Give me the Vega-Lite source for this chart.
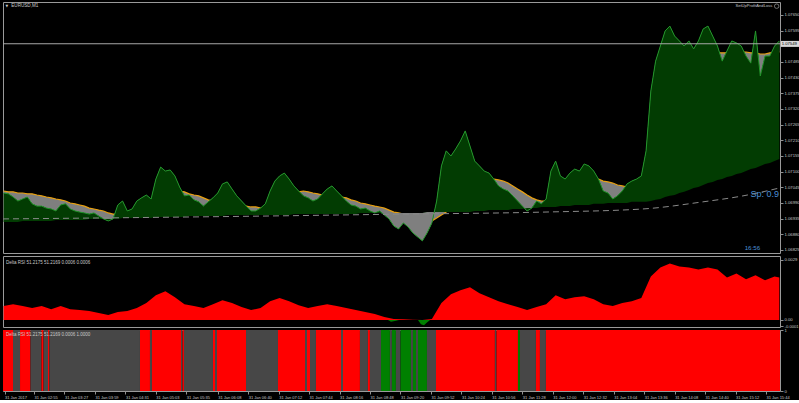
{
"$schema": "https://vega.github.io/schema/vega-lite/v6.json",
"background": "#000000",
"padding": {"left": 0, "top": 1, "right": 0, "bottom": 0},
"spacing": 3,
"bounds": "flush",
"config": {
  "view": {"stroke": "#9a9a9a", "strokeWidth": 1},
  "axis": {"labelFont": "Liberation Sans", "labelFontSize": 4.2, "labelColor": "#c8c8c8", "tickColor": "#909090", "domain": false, "grid": false, "tickSize": 3, "labelPadding": 1, "labelOverlap": false, "labelBound": false, "tickCount": 100},
  "text": {"font": "Liberation Sans", "color": "#c8c8c8"}
},
"datasets": {
"px": [
{"t":143,"c":1.07025,"m":1.07032,"b":1.06923},{"t":148,"c":1.07022,"m":1.07029,"b":1.06923},{"t":153,"c":1.07011,"m":1.07029,"b":1.06923},{"t":158,"c":1.06997,"m":1.07025,"b":1.06923},
{"t":163,"c":1.07004,"m":1.07025,"b":1.06927},{"t":168,"c":1.07011,"m":1.07022,"b":1.06927},{"t":173,"c":1.06987,"m":1.07022,"b":1.06927},{"t":178,"c":1.06979,"m":1.07018,"b":1.06927},
{"t":183,"c":1.06979,"m":1.07015,"b":1.06927},{"t":188,"c":1.06972,"m":1.07011,"b":1.06927},{"t":193,"c":1.06969,"m":1.07008,"b":1.06927},{"t":198,"c":1.06962,"m":1.07004,"b":1.0693},
{"t":203,"c":1.06983,"m":1.07001,"b":1.0693},{"t":208,"c":1.06987,"m":1.06997,"b":1.0693},{"t":213,"c":1.06969,"m":1.0699,"b":1.0693},{"t":218,"c":1.06962,"m":1.06987,"b":1.0693},
{"t":223,"c":1.06958,"m":1.06983,"b":1.0693},{"t":228,"c":1.06955,"m":1.06979,"b":1.0693},{"t":233,"c":1.06951,"m":1.06972,"b":1.06934},{"t":238,"c":1.06955,"m":1.06969,"b":1.06934},
{"t":243,"c":1.06944,"m":1.06965,"b":1.06934},{"t":248,"c":1.06934,"m":1.06962,"b":1.06934},{"t":253,"c":1.06927,"m":1.06955,"b":1.06934},{"t":258,"c":1.06934,"m":1.06951,"b":1.06934},
{"t":263,"c":1.06983,"m":1.06951,"b":1.06934},{"t":268,"c":1.06997,"m":1.06955,"b":1.06937},{"t":273,"c":1.06962,"m":1.06958,"b":1.06937},{"t":278,"c":1.06969,"m":1.06962,"b":1.06937},
{"t":283,"c":1.06997,"m":1.06965,"b":1.06937},{"t":288,"c":1.07008,"m":1.06972,"b":1.06937},{"t":293,"c":1.07018,"m":1.06983,"b":1.06937},{"t":298,"c":1.07004,"m":1.0699,"b":1.06937},
{"t":303,"c":1.07074,"m":1.07001,"b":1.06941},{"t":308,"c":1.07116,"m":1.07011,"b":1.06941},{"t":313,"c":1.07102,"m":1.07022,"b":1.06941},{"t":318,"c":1.07106,"m":1.07029,"b":1.06941},
{"t":323,"c":1.07085,"m":1.07032,"b":1.06941},{"t":328,"c":1.07046,"m":1.07032,"b":1.06941},{"t":333,"c":1.07015,"m":1.07029,"b":1.06941},{"t":338,"c":1.07018,"m":1.07022,"b":1.06944},
{"t":343,"c":1.07001,"m":1.07018,"b":1.06944},{"t":348,"c":1.06994,"m":1.07015,"b":1.06944},{"t":353,"c":1.06979,"m":1.07008,"b":1.06944},{"t":358,"c":1.06994,"m":1.07001,"b":1.06944},
{"t":363,"c":1.07008,"m":1.06997,"b":1.06944},{"t":368,"c":1.07025,"m":1.06994,"b":1.06944},{"t":373,"c":1.07057,"m":1.0699,"b":1.06944},{"t":378,"c":1.07064,"m":1.06987,"b":1.06948},
{"t":383,"c":1.07039,"m":1.06983,"b":1.06948},{"t":388,"c":1.07015,"m":1.06983,"b":1.06948},{"t":393,"c":1.06997,"m":1.06979,"b":1.06948},{"t":398,"c":1.06979,"m":1.06979,"b":1.06948},
{"t":403,"c":1.06962,"m":1.06976,"b":1.06948},{"t":408,"c":1.06962,"m":1.06976,"b":1.06948},{"t":413,"c":1.06972,"m":1.06972,"b":1.06948},{"t":418,"c":1.06987,"m":1.06972,"b":1.06948},
{"t":423,"c":1.07032,"m":1.06979,"b":1.06948},{"t":428,"c":1.07067,"m":1.06987,"b":1.06948},{"t":433,"c":1.07085,"m":1.06997,"b":1.06948},{"t":438,"c":1.07095,"m":1.07008,"b":1.06948},
{"t":443,"c":1.07074,"m":1.07015,"b":1.06948},{"t":448,"c":1.0705,"m":1.07022,"b":1.06951},{"t":453,"c":1.07032,"m":1.07029,"b":1.06951},{"t":458,"c":1.07015,"m":1.07032,"b":1.06951},
{"t":463,"c":1.07008,"m":1.07029,"b":1.06951},{"t":468,"c":1.06997,"m":1.07025,"b":1.06951},{"t":473,"c":1.07004,"m":1.07022,"b":1.06951},{"t":478,"c":1.07022,"m":1.07018,"b":1.06951},
{"t":483,"c":1.07039,"m":1.07015,"b":1.06951},{"t":488,"c":1.0705,"m":1.07015,"b":1.06951},{"t":493,"c":1.07032,"m":1.07011,"b":1.06951},{"t":498,"c":1.07015,"m":1.07011,"b":1.06951},
{"t":503,"c":1.06997,"m":1.07008,"b":1.06951},{"t":508,"c":1.06983,"m":1.07001,"b":1.06951},{"t":513,"c":1.06979,"m":1.06997,"b":1.06951},{"t":518,"c":1.06969,"m":1.0699,"b":1.06955},
{"t":523,"c":1.06972,"m":1.06987,"b":1.06955},{"t":528,"c":1.06962,"m":1.06983,"b":1.06955},{"t":533,"c":1.06955,"m":1.06979,"b":1.06955},{"t":538,"c":1.06962,"m":1.06976,"b":1.06955},
{"t":543,"c":1.06948,"m":1.06972,"b":1.06955},{"t":548,"c":1.06934,"m":1.06965,"b":1.06955},{"t":553,"c":1.06909,"m":1.06958,"b":1.06955},{"t":558,"c":1.06899,"m":1.06955,"b":1.06955},
{"t":563,"c":1.0692,"m":1.06951,"b":1.06955},{"t":568,"c":1.06906,"m":1.06948,"b":1.06955},{"t":573,"c":1.06885,"m":1.06941,"b":1.06955},{"t":578,"c":1.06871,"m":1.06934,"b":1.06955},
{"t":583,"c":1.06857,"m":1.06927,"b":1.06955},{"t":588,"c":1.06885,"m":1.0692,"b":1.06958},{"t":593,"c":1.0692,"m":1.06927,"b":1.06958},{"t":598,"c":1.06997,"m":1.06937,"b":1.06958},
{"t":603,"c":1.0712,"m":1.06948,"b":1.06958},{"t":608,"c":1.07173,"m":1.06958,"b":1.06958},{"t":613,"c":1.07155,"m":1.06972,"b":1.06958},{"t":618,"c":1.0718,"m":1.0699,"b":1.06958},
{"t":623,"c":1.07208,"m":1.07008,"b":1.06958},{"t":628,"c":1.07243,"m":1.07025,"b":1.06958},{"t":633,"c":1.0719,"m":1.07043,"b":1.06958},{"t":638,"c":1.07137,"m":1.07057,"b":1.06962},
{"t":643,"c":1.0712,"m":1.07067,"b":1.06962},{"t":648,"c":1.07102,"m":1.07074,"b":1.06962},{"t":653,"c":1.07095,"m":1.07074,"b":1.06965},{"t":658,"c":1.07074,"m":1.07074,"b":1.06965},
{"t":663,"c":1.0705,"m":1.07071,"b":1.06965},{"t":668,"c":1.07039,"m":1.07067,"b":1.06965},{"t":673,"c":1.07032,"m":1.0706,"b":1.06965},{"t":678,"c":1.07015,"m":1.0705,"b":1.06969},
{"t":683,"c":1.06997,"m":1.07039,"b":1.06969},{"t":688,"c":1.06979,"m":1.07029,"b":1.06969},{"t":693,"c":1.06962,"m":1.07018,"b":1.06972},{"t":698,"c":1.06972,"m":1.07008,"b":1.06972},
{"t":703,"c":1.06997,"m":1.07001,"b":1.06972},{"t":708,"c":1.06987,"m":1.06997,"b":1.06976},{"t":713,"c":1.07004,"m":1.06997,"b":1.06976},{"t":718,"c":1.07102,"m":1.07004,"b":1.06976},
{"t":723,"c":1.07137,"m":1.07015,"b":1.06976},{"t":728,"c":1.07085,"m":1.07025,"b":1.06979},{"t":733,"c":1.07074,"m":1.07036,"b":1.06979},{"t":738,"c":1.07095,"m":1.07046,"b":1.06979},
{"t":743,"c":1.07109,"m":1.07057,"b":1.06983},{"t":748,"c":1.07102,"m":1.07064,"b":1.06983},{"t":753,"c":1.07127,"m":1.07071,"b":1.06983},{"t":758,"c":1.0712,"m":1.07074,"b":1.06983},
{"t":763,"c":1.07102,"m":1.07078,"b":1.06987},{"t":768,"c":1.07074,"m":1.07074,"b":1.06987},{"t":773,"c":1.07032,"m":1.07067,"b":1.06987},{"t":778,"c":1.07025,"m":1.07064,"b":1.0699},
{"t":783,"c":1.07004,"m":1.0706,"b":1.0699},{"t":788,"c":1.07015,"m":1.07053,"b":1.0699},{"t":793,"c":1.07032,"m":1.0705,"b":1.0699},{"t":798,"c":1.07057,"m":1.07046,"b":1.0699},
{"t":803,"c":1.07067,"m":1.07046,"b":1.06994},{"t":808,"c":1.07074,"m":1.0705,"b":1.06994},{"t":813,"c":1.07085,"m":1.07053,"b":1.06994},{"t":818,"c":1.07173,"m":1.07067,"b":1.06994},
{"t":823,"c":1.07383,"m":1.07102,"b":1.06997},{"t":828,"c":1.07488,"m":1.07155,"b":1.07001},{"t":833,"c":1.07541,"m":1.07208,"b":1.07004},{"t":838,"c":1.07594,"m":1.07271,"b":1.07011},
{"t":843,"c":1.07611,"m":1.0733,"b":1.07015},{"t":848,"c":1.07576,"m":1.07376,"b":1.07018},{"t":853,"c":1.07559,"m":1.07418,"b":1.07025},{"t":858,"c":1.07541,"m":1.07453,"b":1.07029},
{"t":863,"c":1.07559,"m":1.07481,"b":1.07036},{"t":868,"c":1.07531,"m":1.07495,"b":1.07043},{"t":873,"c":1.07559,"m":1.07502,"b":1.07046},{"t":878,"c":1.07601,"m":1.07506,"b":1.07053},
{"t":883,"c":1.07611,"m":1.07513,"b":1.0706},{"t":888,"c":1.07576,"m":1.07517,"b":1.07064},{"t":893,"c":1.07541,"m":1.07517,"b":1.07071},{"t":898,"c":1.07488,"m":1.07517,"b":1.07074},
{"t":903,"c":1.07524,"m":1.07517,"b":1.07081},{"t":908,"c":1.07559,"m":1.0752,"b":1.07085},{"t":913,"c":1.07552,"m":1.0752,"b":1.07092},{"t":918,"c":1.07541,"m":1.0752,"b":1.07095},
{"t":923,"c":1.07506,"m":1.0752,"b":1.07102},{"t":928,"c":1.07481,"m":1.07517,"b":1.07109},{"t":933,"c":1.07594,"m":1.07517,"b":1.07113},{"t":938,"c":1.07436,"m":1.07513,"b":1.0712},
{"t":943,"c":1.07506,"m":1.07513,"b":1.07127},{"t":948,"c":1.07506,"m":1.07517,"b":1.0713},{"t":953,"c":1.07541,"m":1.07517,"b":1.07137},{"t":958,"c":1.07559,"m":1.0752,"b":1.07144}
],
"dip": [
{"t":539.5,"c":1.06955,"b":1.06955},{"t":543,"c":1.06948,"b":1.06955},{"t":548,"c":1.06934,"b":1.06955},{"t":553,"c":1.06909,"b":1.06955},{"t":558,"c":1.06899,"b":1.06955},{"t":563,"c":1.0692,"b":1.06955},{"t":568,"c":1.06906,"b":1.06955},{"t":573,"c":1.06885,"b":1.06955},{"t":578,"c":1.06871,"b":1.06955},{"t":583,"c":1.06857,"b":1.06955},{"t":588,"c":1.06885,"b":1.06958},{"t":593,"c":1.0692,"b":1.06958},{"t":595.5,"c":1.06958,"b":1.06958}
],
"dash": [
{"t":142.4,"d":1.06934},{"t":415.5,"d":1.06944},{"t":541.6,"d":1.0695},{"t":709.7,"d":1.06958},{"t":814.7,"d":1.06969},{"t":877.8,"d":1.06994},{"t":919.8,"d":1.07015},{"t":958.7,"d":1.07043}
],
"rsi": [
{"t":143,"v":0.00067},{"t":153,"v":0.00076},{"t":163,"v":0.00067},{"t":173,"v":0.00057},{"t":183,"v":0.00067},{"t":193,"v":0.00052},{"t":203,"v":0.00067},{"t":213,"v":0.00052},{"t":223,"v":0.00048},{"t":233,"v":0.00043},
{"t":243,"v":0.00033},{"t":253,"v":0.00024},{"t":263,"v":0.00038},{"t":273,"v":0.00043},{"t":283,"v":0.00057},{"t":293,"v":0.00081},{"t":303,"v":0.00119},{"t":313,"v":0.00138},{"t":323,"v":0.00109},{"t":333,"v":0.00076},
{"t":343,"v":0.00067},{"t":353,"v":0.00057},{"t":363,"v":0.00076},{"t":373,"v":0.00095},{"t":383,"v":0.00081},{"t":393,"v":0.00062},{"t":403,"v":0.00048},{"t":413,"v":0.00057},{"t":423,"v":0.0009},{"t":433,"v":0.00105},
{"t":443,"v":0.0009},{"t":453,"v":0.00071},{"t":463,"v":0.00057},{"t":473,"v":0.00067},{"t":483,"v":0.00076},{"t":493,"v":0.00067},{"t":503,"v":0.00057},{"t":513,"v":0.00048},{"t":523,"v":0.00038},{"t":533,"v":0.00029},
{"t":543,"v":0.00014},{"t":553,"v":0.00005},{"t":563,"v":0.00003},{"t":573,"v":0.00001},{"t":583,"v":0},{"t":593,"v":0.00005},{"t":603,"v":0.00081},{"t":613,"v":0.00124},{"t":623,"v":0.00143},{"t":633,"v":0.00157},
{"t":643,"v":0.00128},{"t":653,"v":0.00109},{"t":663,"v":0.0009},{"t":673,"v":0.00076},{"t":683,"v":0.00062},{"t":693,"v":0.00048},{"t":703,"v":0.00062},{"t":713,"v":0.00076},{"t":723,"v":0.00119},{"t":733,"v":0.001},
{"t":743,"v":0.00109},{"t":753,"v":0.00114},{"t":763,"v":0.001},{"t":773,"v":0.00076},{"t":783,"v":0.00067},{"t":793,"v":0.00081},{"t":803,"v":0.0009},{"t":813,"v":0.00105},{"t":823,"v":0.00209},{"t":833,"v":0.00252},
{"t":843,"v":0.00271},{"t":853,"v":0.00257},{"t":863,"v":0.00252},{"t":873,"v":0.00242},{"t":883,"v":0.00252},{"t":893,"v":0.00242},{"t":903,"v":0.00204},{"t":913,"v":0.00223},{"t":923,"v":0.00195},{"t":933,"v":0.00214},
{"t":943,"v":0.0019},{"t":953,"v":0.00209},{"t":958,"v":0.00204}
],
"neg": [
{"t":546.8,"v":0},{"t":550,"v":-0.00008},{"t":555.3,"v":-0.00004},{"t":558.4,"v":0},{"t":578.4,"v":0},{"t":581.5,"v":-0.0002},{"t":584.7,"v":-0.00025},{"t":587.8,"v":-0.00012},{"t":591,"v":0}
],
"seg": [
{"s":142.4,"e":152.9,"c":"r"},{"s":152.9,"e":160.3,"c":"n"},{"s":160.3,"e":171.3,"c":"r"},{"s":171.3,"e":182.8,"c":"n"},{"s":182.8,"e":185,"c":"r"},{"s":185,"e":189.7,"c":"n"},{"s":189.7,"e":191.2,"c":"r"},{"s":191.2,"e":286.3,"c":"n"},
{"s":286.3,"e":296.8,"c":"r"},{"s":296.8,"e":298.9,"c":"n"},{"s":298.9,"e":329.4,"c":"r"},{"s":329.4,"e":331,"c":"n"},{"s":331,"e":332.5,"c":"r"},{"s":332.5,"e":363,"c":"n"},{"s":363,"e":365.1,"c":"r"},{"s":365.1,"e":367.2,"c":"n"},
{"s":367.2,"e":397.7,"c":"r"},{"s":397.7,"e":431.3,"c":"n"},{"s":431.3,"e":459.7,"c":"r"},{"s":459.7,"e":461.8,"c":"n"},{"s":461.8,"e":464.9,"c":"r"},{"s":464.9,"e":471.2,"c":"n"},{"s":471.2,"e":497.5,"c":"r"},{"s":497.5,"e":499.6,"c":"n"},
{"s":499.6,"e":517.4,"c":"r"},{"s":517.4,"e":525.8,"c":"n"},{"s":525.8,"e":527.9,"c":"r"},{"s":527.9,"e":539.5,"c":"n"},{"s":539.5,"e":548.9,"c":"g"},{"s":548.9,"e":551,"c":"n"},{"s":551,"e":555.2,"c":"g"},{"s":555.2,"e":560,"c":"n"},
{"s":560,"e":571,"c":"g"},{"s":571,"e":573.1,"c":"n"},{"s":573.1,"e":576.3,"c":"g"},{"s":576.3,"e":578.4,"c":"n"},{"s":578.4,"e":587.8,"c":"g"},{"s":587.8,"e":597.3,"c":"n"},{"s":597.3,"e":659.2,"c":"r"},{"s":659.2,"e":660.8,"c":"n"},
{"s":660.8,"e":683.4,"c":"r"},{"s":683.4,"e":685.5,"c":"g"},{"s":685.5,"e":702.3,"c":"n"},{"s":702.3,"e":706.5,"c":"r"},{"s":706.5,"e":712.8,"c":"n"},{"s":712.8,"e":958.7,"c":"r"}
]
},
"vconcat": [
{
  "width": 777, "height": 251,
  "layer": [
    {"data": {"name": "px"}, "mark": {"type": "area", "color": "#7f7f7f"},
     "encoding": {
       "x": {"field": "t", "type": "quantitative", "scale": {"domain": [142.4, 958.7], "nice": false, "zero": false}, "axis": null},
       "y": {"field": "m", "type": "quantitative", "scale": {"domain": [1.068144, 1.076956], "nice": false, "zero": false},
             "axis": {"orient": "right", "title": null, "format": ".5f", "labelOverlap": false, "tickCount": 100, "values": [1.06825, 1.0688, 1.06935, 1.0699, 1.07045, 1.071, 1.07155, 1.0721, 1.07265, 1.0732, 1.07375, 1.0743, 1.07485, 1.07595, 1.0765]}},
       "y2": {"field": "c"}}},
    {"data": {"name": "px"}, "mark": {"type": "line", "color": "#e8a010", "strokeWidth": 1.2},
     "encoding": {"x": {"field": "t", "type": "quantitative"}, "y": {"field": "m", "type": "quantitative"}}},
    {"data": {"name": "px"}, "mark": {"type": "area", "color": "#023c02"},
     "encoding": {"x": {"field": "t", "type": "quantitative"}, "y": {"field": "c", "type": "quantitative"}, "y2": {"field": "b"}}},
    {"data": {"name": "dip"}, "mark": {"type": "area", "color": "#7f7f7f"},
     "encoding": {"x": {"field": "t", "type": "quantitative"}, "y": {"field": "b", "type": "quantitative"}, "y2": {"field": "c"}}},
    {"data": {"name": "px"}, "mark": {"type": "line", "color": "#22962a", "strokeWidth": 1},
     "encoding": {"x": {"field": "t", "type": "quantitative"}, "y": {"field": "c", "type": "quantitative"}}},
    {"data": {"name": "dash"}, "mark": {"type": "line", "color": "#8a8a8a", "strokeDash": [6, 4], "strokeWidth": 1, "interpolate": "monotone"},
     "encoding": {"x": {"field": "t", "type": "quantitative"}, "y": {"field": "d", "type": "quantitative"}}},
    {"data": {"values": [{}]}, "mark": {"type": "rule", "color": "#a8a8a8", "strokeWidth": 1},
     "encoding": {"y": {"datum": 1.07549, "type": "quantitative"}}},
    {"data": {"values": [{}]}, "mark": {"type": "rect", "color": "#d8d8d8"},
     "encoding": {"x": {"datum": 959.5, "type": "quantitative"}, "x2": {"datum": 982}, "y": {"datum": 1.07559, "type": "quantitative"}, "y2": {"datum": 1.07538}}},
    {"data": {"values": [{}]}, "mark": {"type": "text", "text": "1.07549", "color": "#000000", "fontSize": 4.2, "align": "left", "baseline": "middle"},
     "encoding": {"x": {"datum": 960.5, "type": "quantitative"}, "y": {"datum": 1.07549, "type": "quantitative"}}},
    {"data": {"values": [{}]}, "mark": {"type": "text", "text": "EURUSD,M1", "fontSize": 4.6, "align": "left", "baseline": "middle"},
     "encoding": {"x": {"datum": 151.1, "type": "quantitative"}, "y": {"datum": 1.07681, "type": "quantitative"}}},
    {"data": {"values": [{}]}, "mark": {"type": "text", "text": "▼", "font": "DejaVu Sans", "fontSize": 3.5, "align": "center", "baseline": "middle"},
     "encoding": {"x": {"datum": 146.5, "type": "quantitative"}, "y": {"datum": 1.07681, "type": "quantitative"}}},
    {"data": {"values": [{}]}, "mark": {"type": "text", "text": "SetUpProfitAndLoss", "fontSize": 4.1, "align": "right", "baseline": "middle"},
     "encoding": {"x": {"datum": 950.6, "type": "quantitative"}, "y": {"datum": 1.07681, "type": "quantitative"}}},
    {"data": {"values": [{}]}, "mark": {"type": "point", "shape": "circle", "size": 20, "filled": false, "color": "#c8c8c8", "strokeWidth": 0.8},
     "encoding": {"x": {"datum": 955.2, "type": "quantitative"}, "y": {"datum": 1.07681, "type": "quantitative"}}},
    {"data": {"values": [{}]}, "mark": {"type": "text", "text": "Sp: 0.9", "fontSize": 9, "color": "#4a8fd6", "align": "right", "baseline": "middle"},
     "encoding": {"x": {"datum": 957.6, "type": "quantitative"}, "y": {"datum": 1.07022, "type": "quantitative"}}},
    {"data": {"values": [{}]}, "mark": {"type": "text", "text": "16:56", "fontSize": 6.2, "color": "#4a8fd6", "align": "center", "baseline": "middle"},
     "encoding": {"x": {"datum": 929.7, "type": "quantitative"}, "y": {"datum": 1.06833, "type": "quantitative"}}}
  ]
},
{
  "width": 777, "height": 71,
  "layer": [
    {"data": {"name": "rsi"}, "mark": {"type": "area", "color": "#ff0000"},
     "encoding": {
       "x": {"field": "t", "type": "quantitative", "scale": {"domain": [142.4, 958.7], "nice": false, "zero": false}, "axis": null},
       "y": {"field": "v", "type": "quantitative", "scale": {"domain": [-0.000336, 0.003068], "nice": false, "zero": false},
             "axis": {"orient": "right", "title": null, "labelOverlap": false, "tickCount": 100, "values": [0.0029, 0, -0.0003], "labelExpr": "datum.value < -0.0002 ? '-0.0001' : (datum.value == 0 ? '0.00' : format(datum.value, '.4f'))"}},
       "y2": {"datum": 0}}},
    {"data": {"name": "neg"}, "mark": {"type": "area", "color": "#008000"},
     "encoding": {"x": {"field": "t", "type": "quantitative"}, "y": {"field": "v", "type": "quantitative"}, "y2": {"datum": 0}}},
    {"data": {"values": [{}]}, "mark": {"type": "text", "text": "Delta RSI 51.2175 51.2169 0.0006 0.0006", "fontSize": 4.5, "align": "left", "baseline": "middle"},
     "encoding": {"x": {"datum": 145.5, "type": "quantitative"}, "y": {"datum": 0.002732, "type": "quantitative"}}}
  ]
},
{
  "width": 777, "height": 61,
  "layer": [
    {"data": {"name": "seg"}, "mark": {"type": "rect"},
     "encoding": {
       "x": {"field": "s", "type": "quantitative", "scale": {"domain": [142.4, 958.7], "nice": false, "zero": false},
             "axis": {"orient": "bottom", "title": null, "labelAlign": "left", "labelBaseline": "top", "labelPadding": 1, "labelFontSize": 4, "tickSize": 3, "labelOverlap": false, "tickCount": 100,
                      "values": [144, 175, 207, 239, 271, 303, 335, 368, 400, 432, 464, 496, 528, 560, 592, 624, 656, 688, 720, 752, 784, 816, 848, 880, 912, 944],
                      "labelExpr": "datum.value < 150 ? '31 Jan 2017' : '31 Jan ' + (floor(datum.value/60) < 10 ? '0' : '') + floor(datum.value/60) + ':' + (datum.value % 60 < 10 ? '0' : '') + (datum.value % 60)"}},
       "x2": {"field": "e"},
       "y": {"datum": 1, "type": "quantitative", "scale": {"domain": [0, 1], "nice": false}, "axis": {"orient": "right", "title": null, "values": [0, 1], "format": "d", "labelOverlap": false}},
       "y2": {"datum": 0},
       "color": {"field": "c", "type": "nominal", "scale": {"domain": ["r", "n", "g"], "range": ["#ff0000", "#474747", "#008000"]}, "legend": null}}},
    {"data": {"values": [{}]}, "mark": {"type": "text", "text": "Delta RSI 51.2175 51.2169 0.0006 1.0000", "fontSize": 4.5, "align": "left", "baseline": "middle"},
     "encoding": {"x": {"datum": 145.5, "type": "quantitative"}, "y": {"datum": 0.918, "type": "quantitative"}}}
  ]
}
]
}
